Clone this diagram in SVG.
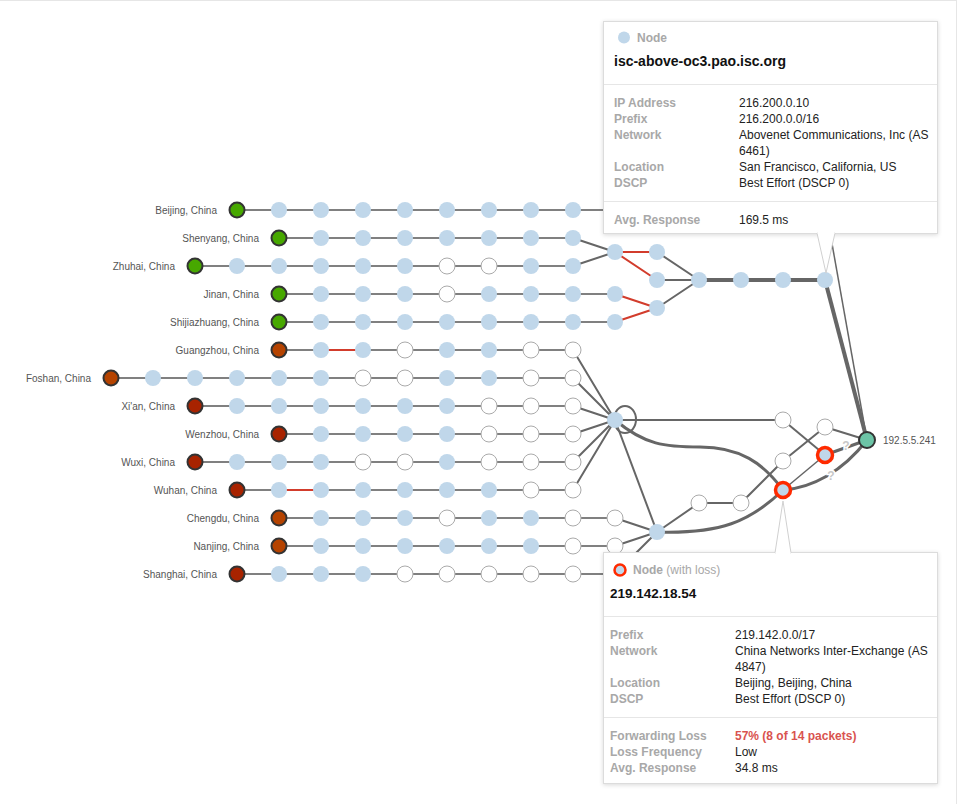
<svg xmlns="http://www.w3.org/2000/svg" width="960" height="804" viewBox="0 0 960 804">
<defs>
<filter id="sh" x="-5%" y="-5%" width="110%" height="115%"><feDropShadow dx="0" dy="1" stdDeviation="2" flood-color="#000" flood-opacity="0.15"/></filter>
<style>
.ln{stroke:#808080;stroke-width:2;fill:none}
.mg{stroke:#666;stroke-width:2;fill:none}
.hv{stroke:#666;stroke-width:4;fill:none}
.th{stroke:#666;stroke-width:3;fill:none}
.tn{stroke:#666;stroke-width:1.5;fill:none}
.rd{stroke:#d23c2c;stroke-width:2;fill:none}
.b{fill:#c0d7ea}
.w{fill:#fff;stroke:#aaa;stroke-width:1}
.gs{fill:#47a800;stroke:#333;stroke-width:2}
.os{fill:#b54300;stroke:#333;stroke-width:2}
.rs{fill:#a82300;stroke:#333;stroke-width:2}
.loss{fill:#c0d7ea;stroke:#ff2a00;stroke-width:3.5}
.dst{fill:#6cc4a6;stroke:#333;stroke-width:2}
.lbl{font-family:"Liberation Sans",Arial,sans-serif;font-size:10px;fill:#555;text-anchor:end}
.q{font-family:"Liberation Sans",Arial,sans-serif;font-size:12px;font-weight:bold;fill:#c8c8c8;text-anchor:middle;stroke:#fff;stroke-width:3;paint-order:stroke}
.tt{fill:#fff;stroke:#dcdcdc;stroke-width:1}
.dv{stroke:#e6e6e6;stroke-width:1}
.tk{font-family:"Liberation Sans",Arial,sans-serif;font-size:12px;font-weight:bold;fill:#a8a8a8}
.tv{font-family:"Liberation Sans",Arial,sans-serif;font-size:12px;fill:#222}
.ti{font-family:"Liberation Sans",Arial,sans-serif;font-weight:bold;fill:#111}
</style>
</defs>
<rect x="-1" y="0.5" width="957.5" height="810" fill="#fff" stroke="#e6e6e6"/>

<g id="connectors">
<!-- row lines -->
<path class="ln" d="M237,210H826"/>
<path class="tn" d="M826,210L867,440"/>
<path class="ln" d="M279,238H573"/>
<path class="ln" d="M195,266H573"/>
<path class="ln" d="M279,294H615"/>
<path class="ln" d="M279,322H615"/>
<path class="ln" d="M279,350H573"/>
<path class="ln" d="M111,378H573"/>
<path class="ln" d="M195,406H573"/>
<path class="ln" d="M279,434H573"/>
<path class="ln" d="M195,462H573"/>
<path class="ln" d="M237,490H573"/>
<path class="ln" d="M279,518H615"/>
<path class="ln" d="M279,546H615"/>
<path class="ln" d="M237,574H615"/>
<path class="rd" d="M321,350H363"/>
<path class="rd" d="M279,490H321"/>
<!-- upper cluster -->
<path class="mg" d="M573,238L615,252M573,266L615,252"/>
<path class="rd" d="M615,252H657M615,252L657,280M615,294L657,308M615,322L657,308"/>
<path class="mg" d="M657,252L699,280M657,280H699M657,308L699,280"/>
<path class="hv" d="M699,280H825"/>
<path class="hv" d="M825,280L867,440"/>
<!-- hub -->
<path class="mg" d="M573,350L615,420M573,378L615,420M573,406L615,420M573,434L615,420M573,462L615,420M573,490L615,420"/>
<ellipse class="mg" cx="625" cy="419.5" rx="11" ry="13.5"/>
<path class="mg" d="M615,420H783"/>
<path class="th" d="M615,420C645,445 665,447 700,447C740,447 763,463 783,490"/>
<path class="mg" d="M615,420L657,532"/>
<!-- lower hub -->
<path class="mg" d="M615,518L657,532M615,546L657,532M615,574L657,532"/>
<path class="mg" d="M657,532L699,503H741"/>
<path class="th" d="M657,532C720,534 750,522 783,490"/>
<path class="mg" d="M741,503L783,461L825,427"/>
<path class="mg" d="M783,420L825,455"/>
<path class="tn" d="M783,490L825,455"/>
<path class="mg" d="M825,427L867,440"/>
<path class="th" d="M825,455L867,440"/>
<path class="th" d="M783,490C812,488 842,472 867,440"/>
<text class="q" x="846" y="450">?</text>
<text class="q" x="831" y="480">?</text>
</g>

<g id="labels">
<text class="lbl" x="217" y="213.5">Beijing, China</text>
<text class="lbl" x="259" y="241.5">Shenyang, China</text>
<text class="lbl" x="175" y="269.5">Zhuhai, China</text>
<text class="lbl" x="259" y="297.5">Jinan, China</text>
<text class="lbl" x="259" y="325.5">Shijiazhuang, China</text>
<text class="lbl" x="259" y="353.5">Guangzhou, China</text>
<text class="lbl" x="91" y="381.5">Foshan, China</text>
<text class="lbl" x="175" y="409.5">Xi'an, China</text>
<text class="lbl" x="259" y="437.5">Wenzhou, China</text>
<text class="lbl" x="175" y="465.5">Wuxi, China</text>
<text class="lbl" x="217" y="493.5">Wuhan, China</text>
<text class="lbl" x="259" y="521.5">Chengdu, China</text>
<text class="lbl" x="259" y="549.5">Nanjing, China</text>
<text class="lbl" x="217" y="577.5">Shanghai, China</text>
<text class="lbl" x="883" y="443.5" style="text-anchor:start">192.5.5.241</text>
</g>

<g id="nodes">
<g id="beijing"><circle class="gs" cx="237" cy="210" r="7.5"/><circle class="b" cx="279" cy="210" r="8"/><circle class="b" cx="321" cy="210" r="8"/><circle class="b" cx="363" cy="210" r="8"/><circle class="b" cx="405" cy="210" r="8"/><circle class="b" cx="447" cy="210" r="8"/><circle class="b" cx="489" cy="210" r="8"/><circle class="b" cx="531" cy="210" r="8"/><circle class="b" cx="573" cy="210" r="8"/></g>
<g id="shenyang"><circle class="gs" cx="279" cy="238" r="7.5"/><circle class="b" cx="321" cy="238" r="8"/><circle class="b" cx="363" cy="238" r="8"/><circle class="b" cx="405" cy="238" r="8"/><circle class="b" cx="447" cy="238" r="8"/><circle class="b" cx="489" cy="238" r="8"/><circle class="b" cx="531" cy="238" r="8"/><circle class="b" cx="573" cy="238" r="8"/></g>
<g id="zhuhai"><circle class="gs" cx="195" cy="266" r="7.5"/><circle class="b" cx="237" cy="266" r="8"/><circle class="b" cx="279" cy="266" r="8"/><circle class="b" cx="321" cy="266" r="8"/><circle class="b" cx="363" cy="266" r="8"/><circle class="b" cx="405" cy="266" r="8"/><circle class="w" cx="447" cy="266" r="8"/><circle class="w" cx="489" cy="266" r="8"/><circle class="b" cx="531" cy="266" r="8"/><circle class="b" cx="573" cy="266" r="8"/></g>
<g id="jinan"><circle class="gs" cx="279" cy="294" r="7.5"/><circle class="b" cx="321" cy="294" r="8"/><circle class="b" cx="363" cy="294" r="8"/><circle class="b" cx="405" cy="294" r="8"/><circle class="w" cx="447" cy="294" r="8"/><circle class="b" cx="489" cy="294" r="8"/><circle class="b" cx="531" cy="294" r="8"/><circle class="b" cx="573" cy="294" r="8"/></g>
<g id="shijiazhuang"><circle class="gs" cx="279" cy="322" r="7.5"/><circle class="b" cx="321" cy="322" r="8"/><circle class="b" cx="363" cy="322" r="8"/><circle class="b" cx="405" cy="322" r="8"/><circle class="b" cx="447" cy="322" r="8"/><circle class="b" cx="489" cy="322" r="8"/><circle class="b" cx="531" cy="322" r="8"/><circle class="b" cx="573" cy="322" r="8"/></g>
<g id="guangzhou"><circle class="os" cx="279" cy="350" r="7.5"/><circle class="b" cx="321" cy="350" r="8"/><circle class="b" cx="363" cy="350" r="8"/><circle class="w" cx="405" cy="350" r="8"/><circle class="b" cx="447" cy="350" r="8"/><circle class="b" cx="489" cy="350" r="8"/><circle class="w" cx="531" cy="350" r="8"/><circle class="w" cx="573" cy="350" r="8"/></g>
<g id="foshan"><circle class="os" cx="111" cy="378" r="7.5"/><circle class="b" cx="153" cy="378" r="8"/><circle class="b" cx="195" cy="378" r="8"/><circle class="b" cx="237" cy="378" r="8"/><circle class="b" cx="279" cy="378" r="8"/><circle class="b" cx="321" cy="378" r="8"/><circle class="w" cx="363" cy="378" r="8"/><circle class="w" cx="405" cy="378" r="8"/><circle class="b" cx="447" cy="378" r="8"/><circle class="b" cx="489" cy="378" r="8"/><circle class="w" cx="531" cy="378" r="8"/><circle class="w" cx="573" cy="378" r="8"/></g>
<g id="xian"><circle class="rs" cx="195" cy="406" r="7.5"/><circle class="b" cx="237" cy="406" r="8"/><circle class="b" cx="279" cy="406" r="8"/><circle class="b" cx="321" cy="406" r="8"/><circle class="b" cx="363" cy="406" r="8"/><circle class="b" cx="405" cy="406" r="8"/><circle class="b" cx="447" cy="406" r="8"/><circle class="w" cx="489" cy="406" r="8"/><circle class="w" cx="531" cy="406" r="8"/><circle class="w" cx="573" cy="406" r="8"/></g>
<g id="wenzhou"><circle class="rs" cx="279" cy="434" r="7.5"/><circle class="b" cx="321" cy="434" r="8"/><circle class="b" cx="363" cy="434" r="8"/><circle class="b" cx="405" cy="434" r="8"/><circle class="b" cx="447" cy="434" r="8"/><circle class="w" cx="489" cy="434" r="8"/><circle class="w" cx="531" cy="434" r="8"/><circle class="w" cx="573" cy="434" r="8"/></g>
<g id="wuxi"><circle class="rs" cx="195" cy="462" r="7.5"/><circle class="b" cx="237" cy="462" r="8"/><circle class="b" cx="279" cy="462" r="8"/><circle class="b" cx="321" cy="462" r="8"/><circle class="w" cx="363" cy="462" r="8"/><circle class="w" cx="405" cy="462" r="8"/><circle class="b" cx="447" cy="462" r="8"/><circle class="w" cx="489" cy="462" r="8"/><circle class="w" cx="531" cy="462" r="8"/><circle class="w" cx="573" cy="462" r="8"/></g>
<g id="wuhan"><circle class="rs" cx="237" cy="490" r="7.5"/><circle class="b" cx="279" cy="490" r="8"/><circle class="b" cx="321" cy="490" r="8"/><circle class="b" cx="363" cy="490" r="8"/><circle class="b" cx="405" cy="490" r="8"/><circle class="b" cx="447" cy="490" r="8"/><circle class="b" cx="489" cy="490" r="8"/><circle class="w" cx="531" cy="490" r="8"/><circle class="w" cx="573" cy="490" r="8"/></g>
<g id="chengdu"><circle class="os" cx="279" cy="518" r="7.5"/><circle class="b" cx="321" cy="518" r="8"/><circle class="b" cx="363" cy="518" r="8"/><circle class="b" cx="405" cy="518" r="8"/><circle class="w" cx="447" cy="518" r="8"/><circle class="b" cx="489" cy="518" r="8"/><circle class="b" cx="531" cy="518" r="8"/><circle class="w" cx="573" cy="518" r="8"/><circle class="w" cx="615" cy="518" r="8"/></g>
<g id="nanjing"><circle class="os" cx="279" cy="546" r="7.5"/><circle class="b" cx="321" cy="546" r="8"/><circle class="b" cx="363" cy="546" r="8"/><circle class="b" cx="405" cy="546" r="8"/><circle class="b" cx="447" cy="546" r="8"/><circle class="b" cx="489" cy="546" r="8"/><circle class="b" cx="531" cy="546" r="8"/><circle class="w" cx="573" cy="546" r="8"/><circle class="w" cx="615" cy="546" r="8"/></g>
<g id="shanghai"><circle class="rs" cx="237" cy="574" r="7.5"/><circle class="b" cx="279" cy="574" r="8"/><circle class="b" cx="321" cy="574" r="8"/><circle class="b" cx="363" cy="574" r="8"/><circle class="w" cx="405" cy="574" r="8"/><circle class="w" cx="447" cy="574" r="8"/><circle class="w" cx="489" cy="574" r="8"/><circle class="w" cx="531" cy="574" r="8"/><circle class="w" cx="573" cy="574" r="8"/></g>
<g id="merge-upper"><circle class="b" cx="615" cy="252" r="8"/><circle class="b" cx="657" cy="252" r="8"/><circle class="b" cx="657" cy="280" r="8"/><circle class="b" cx="615" cy="294" r="8"/><circle class="b" cx="657" cy="308" r="8"/><circle class="b" cx="615" cy="322" r="8"/><circle class="b" cx="699" cy="280" r="8"/><circle class="b" cx="741" cy="280" r="8"/><circle class="b" cx="783" cy="280" r="8"/><circle class="b" cx="825" cy="280" r="8"/></g>
<g id="hub"><circle class="b" cx="615" cy="420" r="8"/></g>
<g id="hub-lower"><circle class="b" cx="657" cy="532" r="8"/></g>
<g id="merge-lower"><circle class="w" cx="783" cy="420" r="8"/><circle class="w" cx="825" cy="427" r="8"/><circle class="w" cx="783" cy="461" r="8"/><circle class="w" cx="699" cy="503" r="8"/><circle class="w" cx="741" cy="503" r="8"/></g>
<g id="loss-1"><circle class="loss" cx="825" cy="455" r="7.5"/></g>
<g id="loss-2"><circle class="loss" cx="783" cy="490" r="7.5"/></g>
<g id="destination"><circle class="dst" cx="867" cy="440" r="8"/></g>
</g>

<g id="tooltip-top">
<rect class="tt" x="603.5" y="21.5" width="334" height="212" filter="url(#sh)"/>
<polygon points="817,233 826,273 835,233" fill="#fff" stroke="#d0d0d0"/>
<line x1="817.5" y1="233" x2="834.5" y2="233" stroke="#fff" stroke-width="2"/>
<circle cx="624" cy="37.5" r="6" fill="#c0d7ea"/>
<text class="tk" x="637" y="42">Node</text>
<text class="ti" x="614" y="66" font-size="14">isc-above-oc3.pao.isc.org</text>
<line class="dv" x1="604" y1="84.5" x2="937" y2="84.5"/>
<text class="tk" x="614" y="107">IP Address</text><text class="tv" x="739" y="107">216.200.0.10</text>
<text class="tk" x="614" y="123">Prefix</text><text class="tv" x="739" y="123">216.200.0.0/16</text>
<text class="tk" x="614" y="139">Network</text><text class="tv" x="739" y="139">Abovenet Communications, Inc (AS</text>
<text class="tv" x="739" y="155">6461)</text>
<text class="tk" x="614" y="171">Location</text><text class="tv" x="739" y="171">San Francisco, California, US</text>
<text class="tk" x="614" y="187">DSCP</text><text class="tv" x="739" y="187">Best Effort (DSCP 0)</text>
<line class="dv" x1="604" y1="201.5" x2="937" y2="201.5"/>
<text class="tk" x="614" y="223.5">Avg. Response</text><text class="tv" x="739" y="223.5">169.5 ms</text>
</g>

<g id="tooltip-bottom">
<rect class="tt" x="603.5" y="552.5" width="334" height="231" filter="url(#sh)"/>
<polygon points="775,553 783,501 791,553" fill="#fff" stroke="#d0d0d0"/>
<line x1="775.5" y1="553" x2="790.5" y2="553" stroke="#fff" stroke-width="2"/>
<circle cx="620" cy="570" r="5.5" fill="#c0d7ea" stroke="#ff2a00" stroke-width="2.5"/>
<text class="tk" x="633" y="574">Node<tspan font-weight="normal"> (with loss)</tspan></text>
<text class="ti" x="610" y="598" font-size="13.5">219.142.18.54</text>
<line class="dv" x1="604" y1="616.5" x2="937" y2="616.5"/>
<text class="tk" x="610" y="638.5">Prefix</text><text class="tv" x="735" y="638.5">219.142.0.0/17</text>
<text class="tk" x="610" y="654.5">Network</text><text class="tv" x="735" y="654.5">China Networks Inter-Exchange (AS</text>
<text class="tv" x="735" y="670.5">4847)</text>
<text class="tk" x="610" y="686.5">Location</text><text class="tv" x="735" y="686.5">Beijing, Beijing, China</text>
<text class="tk" x="610" y="702.5">DSCP</text><text class="tv" x="735" y="702.5">Best Effort (DSCP 0)</text>
<line class="dv" x1="604" y1="717.5" x2="937" y2="717.5"/>
<text class="tk" x="610" y="740">Forwarding Loss</text><text class="tv" x="735" y="740" font-weight="bold" fill="#d9534f" style="fill:#d9534f">57% (8 of 14 packets)</text>
<text class="tk" x="610" y="756">Loss Frequency</text><text class="tv" x="735" y="756">Low</text>
<text class="tk" x="610" y="772">Avg. Response</text><text class="tv" x="735" y="772">34.8 ms</text>
</g>
</svg>
